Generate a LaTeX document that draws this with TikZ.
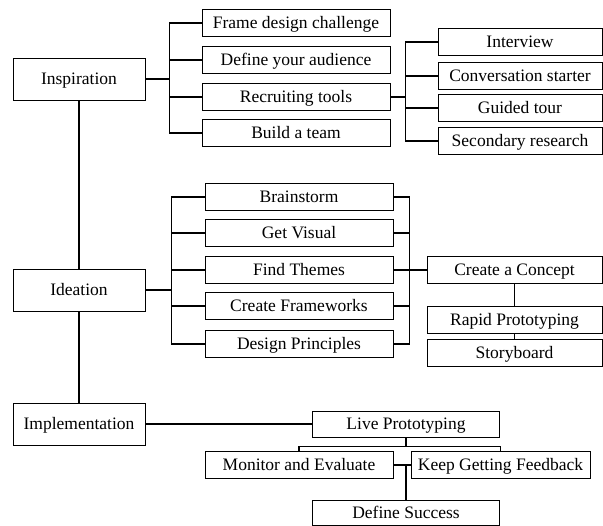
\documentclass[tikz,border=0pt]{standalone}
\usepackage{fontspec}
\setmainfont{Liberation Serif}
\usepackage{tikz}
\usetikzlibrary{calc}

\begin{document}
\begin{tikzpicture}[x=1pt,y=-1pt,
	box/.style={draw,line width=0.9pt,inner sep=0pt,minimum height=27pt,text height=12pt,text depth=1.5pt,font=\fontsize{17.5}{20}\selectfont},
	phase/.style={box,minimum width=132pt,minimum height=42pt},
	link/.style={line width=1.6pt}]

	\useasboundingbox (0,0) rectangle (603,526);

	\node[phase] (insp) at (79,79) {Inspiration};
	\node[phase] (idea) at (79,290) {Ideation};
	\node[phase] (impl) at (79,424) {Implementation};

	\node[box,minimum width=188pt] (frame) at (296,23) {Frame design challenge};
	\node[box,minimum width=188pt] (audience) at (296,60) {Define your audience};
	\node[box,minimum width=188pt] (recruit) at (296,97) {Recruiting tools};
	\node[box,minimum width=188pt] (team) at (296,133) {Build a team};

	\node[box,minimum width=164pt] (interview) at (520,42) {Interview};
	\node[box,minimum width=164pt] (convo) at (520,76) {Conversation starter};
	\node[box,minimum width=164pt] (guided) at (520,108) {Guided tour};
	\node[box,minimum width=164pt] (secondary) at (520,141) {Secondary research};

	\node[box,minimum width=188pt] (brain) at (299,197) {Brainstorm};
	\node[box,minimum width=188pt] (visual) at (299,233) {Get Visual};
	\node[box,minimum width=188pt] (themes) at (299,270) {Find Themes};
	\node[box,minimum width=188pt] (frameworks) at (299,306) {Create Frameworks};
	\node[box,minimum width=188pt] (principles) at (299,344) {Design Principles};

	\node[box,minimum width=175pt] (concept) at (514.5,270) {Create a Concept};
	\node[box,minimum width=175pt] (rapid) at (514.5,320) {Rapid Prototyping};
	\node[box,minimum width=175pt] (story) at (514.5,353) {Storyboard};

	\node[box,minimum width=187pt,minimum height=26pt] (live) at (406,424) {Live Prototyping};
	\node[box,minimum width=188pt] (monitor) at (299,465) {Monitor and Evaluate};
	\node[box,minimum width=179pt] (feedback) at (500.5,465) {Keep Getting Feedback};
	\node[box,minimum width=187pt,minimum height=25pt] (success) at (406,513) {Define Success};

	\draw[link] (insp) -- (idea) -- (impl);
	\draw[link] (impl) -- (live);

	\draw[link] (insp.east) -- ++(24,0) coordinate (ibus);
	\draw[link] (ibus) |- (frame.west);
	\draw[link] (ibus) |- (audience.west);
	\draw[link] (ibus) |- (recruit.west);
	\draw[link] (ibus) |- (team.west);

	\draw[link] (recruit.east) -- ++(15,0) coordinate (rbus);
	\draw[link] (rbus) |- (interview.west);
	\draw[link] (rbus) |- (convo.west);
	\draw[link] (rbus) |- (guided.west);
	\draw[link] (rbus) |- (secondary.west);

	\draw[link] (idea.east) -- ++(26,0) coordinate (dbus);
	\draw[link] (dbus) |- (brain.west);
	\draw[link] (dbus) |- (visual.west);
	\draw[link] (dbus) |- (themes.west);
	\draw[link] (dbus) |- (frameworks.west);
	\draw[link] (dbus) |- (principles.west);

	\draw[link] (themes.east) -- ++(16,0) coordinate (tbus);
	\draw[link] (brain.east) -| (tbus) |- (principles.east);
	\draw[link] (visual.east) -- (visual.east -| tbus);
	\draw[link] (frameworks.east) -- (frameworks.east -| tbus);
	\draw[link] (tbus) -- (concept.west);
	\draw[link] (concept) -- (rapid);
	\draw[link] (rapid) -- (story);

	\draw[link] (live.south) -- ++(0,9) coordinate (lbus);
	\draw[link] (monitor.north) |- (lbus) -| (feedback.north);
	\draw[link] (monitor.east) -- (feedback.west);
	\draw[link] (success.north) -- (success.north |- monitor.east);

\end{tikzpicture}
\end{document}
